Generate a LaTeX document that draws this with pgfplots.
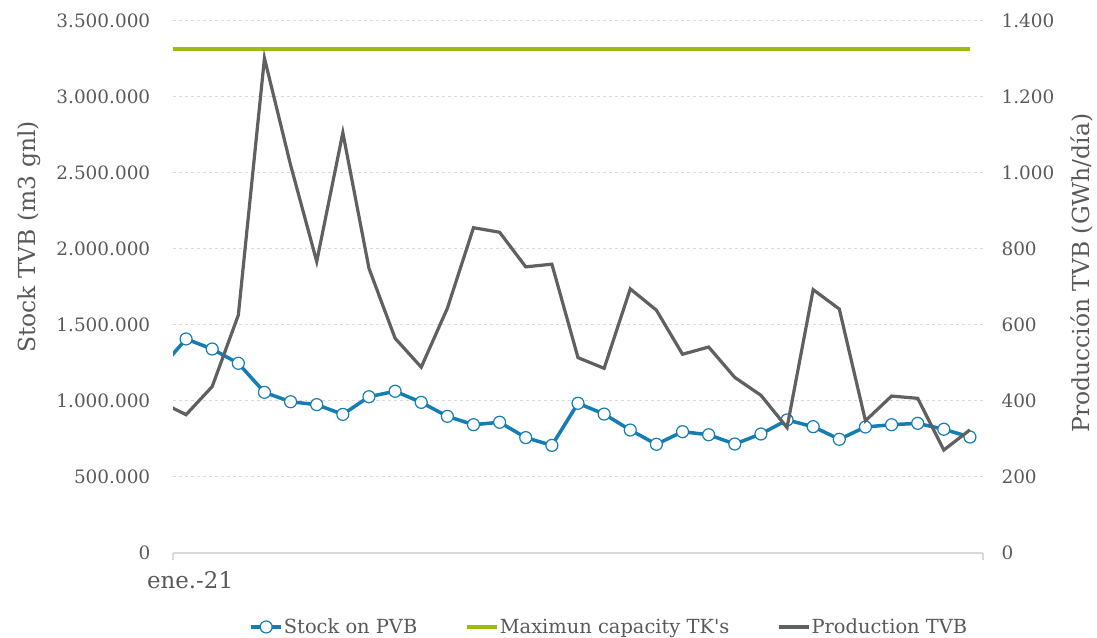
\documentclass[border=0pt]{standalone}
\usepackage{pgfplots}
\pgfplotsset{compat=1.18}
\usepackage{fontspec}
\setmainfont{DejaVu Serif}
\newfontfamily\plainfont{DejaVu Serif}
\definecolor{cblue}{HTML}{137DB4}
\definecolor{cgreen}{HTML}{9DBB13}
\definecolor{cgray}{HTML}{5F6062}
\definecolor{ctext}{HTML}{595959}
\definecolor{cgrid}{HTML}{D9D9D9}

\pgfplotstableread{
x stock prod
0 1210000 398
1 1408000 364
2 1342000 438
3 1248000 626
4 1057000 1302
5 995000 1021
6 976000 767
7 912000 1106
8 1028000 749
9 1064000 565
10 991000 489
11 899000 644
12 844000 856
13 860000 844
14 759000 753
15 708000 760
16 985000 514
17 914000 486
18 809000 695
19 715000 639
20 798000 523
21 778000 542
22 717000 462
23 783000 415
24 875000 330
25 831000 693
26 748000 642
27 829000 348
28 844000 413
29 853000 407
30 814000 271
31 763000 324
}\datatab

\begin{document}
\begin{tikzpicture}[x=1bp,y=1bp]
\useasboundingbox (0,0) rectangle (1097,638);
\begin{axis}[
  at={(173bp,85bp)}, anchor=south west,
  scale only axis, width=810bp, height=532bp,
  xmin=0.5, xmax=31.5, ymin=0, ymax=3500000,
  ytick={0,500000,1000000,1500000,2000000,2500000,3000000,3500000},
  scaled y ticks=false,
  yticklabel={\pgfmathprintnumber[fixed,precision=0,1000 sep={.},assume math mode=true]{\tick}},
  ymajorgrids, grid style={cgrid, dashed, line width=1bp},
  axis x line*=bottom, axis y line*=left,
  y axis line style={draw=none},
  x axis line style={cgrid, line width=1.2bp},
  ytick style={draw=none},
  xtick={1}, xticklabels={ene.-21},
  xtick style={draw=none},
  extra x ticks={0.5,31.5}, extra x tick labels={},
  extra x tick style={tick style={cgrid, line width=1.2bp, draw=cgrid}, major tick length=7bp, xtick style={draw=cgrid}},
  tick align=outside,
  ticklabel style={text=ctext},
  yticklabel style={xshift=-15bp, font=\fontsize{18.5}{22}\selectfont},
  xticklabel style={yshift=-11bp, xshift=4bp, font=\fontsize{23}{27}\selectfont},
  every axis y label/.style={at={(rel axis cs:-0.178,0.594)}, rotate=90, anchor=center, text=ctext, font=\fontsize{23.5}{28}\selectfont},
  ylabel={Stock TVB (m3 gnl)},
  clip=true,
]
\addplot[cblue, line width=3.5bp] table[x=x,y=stock]{\datatab};
\addplot[cblue, only marks, mark=*, mark size=6bp, mark options={fill=white, draw=cblue, line width=1.2bp}] table[x=x,y=stock]{\datatab};
\addplot[cgreen, line width=3.5bp] coordinates {(0,3315000) (31,3315000)};
\end{axis}
\begin{axis}[
  at={(173bp,85bp)}, anchor=south west,
  scale only axis, width=810bp, height=532bp,
  xmin=0.5, xmax=31.5, ymin=0, ymax=1400,
  ytick={0,200,400,600,800,1000,1200,1400},
  scaled y ticks=false,
  yticklabel={\pgfmathprintnumber[fixed,precision=0,1000 sep={.},assume math mode=true]{\tick}},
  axis x line=none, axis y line*=right,
  y axis line style={draw=none},
  ytick style={draw=none},
  ticklabel style={text=ctext},
  yticklabel style={xshift=15bp, font=\fontsize{18.5}{22}\selectfont},
  every axis y label/.style={at={(rel axis cs:1.122,0.526)}, rotate=90, anchor=center, text=ctext, font=\fontsize{23.5}{28}\selectfont},
  ylabel={Producción TVB (GWh/día)},
  legend image code/.code={\draw[#1, mark repeat=2, mark phase=2] plot coordinates {(0bp,0bp) (15bp,0bp) (30bp,0bp)};},
  legend style={at={(rel axis cs:0.538,-0.139)}, anchor=center, draw=none, fill=none, legend columns=3, text=ctext,
    font=\fontsize{19.5}{23}\selectfont,
    /tikz/every even column/.append style={column sep=47bp}, nodes={inner xsep=1bp}},
  clip=true,
]
\addlegendimage{cblue, line width=3.5bp, mark=*, mark size=6bp, mark options={fill=white, draw=cblue, line width=1.2bp}}
\addlegendentry{Stock on PVB}
\addlegendimage{cgreen, line width=3.5bp}
\addlegendentry{Maximun capacity TK{\plainfont '}s}
\addplot[cgray, line width=3.2bp] table[x=x,y=prod]{\datatab};
\addlegendentry{Production TVB}
\end{axis}
\end{tikzpicture}
\end{document}
